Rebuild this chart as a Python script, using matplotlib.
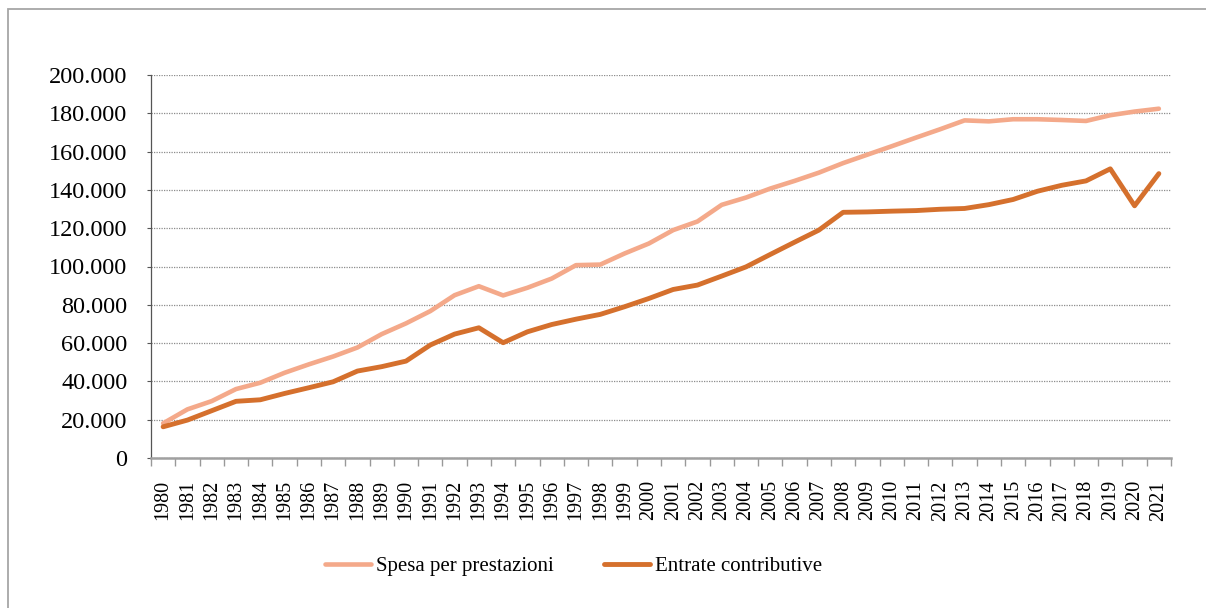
import matplotlib
matplotlib.use('Agg')
import matplotlib.pyplot as plt
from matplotlib.patches import Rectangle
from matplotlib.ticker import FuncFormatter
import numpy as np

# data (values in the chart's units)
years = list(range(1980, 2022))
spesa = [18.1, 25.4, 29.7, 36.0, 39.3, 44.5, 48.9, 53.0, 57.7, 64.7,
         70.3, 76.7, 85.0, 89.7, 84.9, 88.9, 93.7, 100.7, 101.0, 106.8,
         112.0, 119.0, 123.5, 132.2, 136.0, 140.7, 144.7, 149.0, 154.0, 158.4,
         162.8, 167.3, 171.7, 176.3, 175.8, 176.9, 176.9, 176.5, 176.0, 179.0,
         180.9, 182.4]
entrate = [16.3, 19.8, 24.7, 29.6, 30.4, 33.7, 36.7, 39.8, 45.4, 47.7,
           50.6, 59.0, 64.7, 68.0, 60.2, 65.9, 69.7, 72.5, 75.0, 79.0,
           83.3, 88.0, 90.3, 95.0, 99.8, 106.3, 112.7, 119.0, 128.3, 128.5,
           128.9, 129.2, 129.9, 130.3, 132.3, 135.0, 139.3, 142.4, 144.7, 151.0,
           131.7, 148.5]
spesa = [v * 1000 for v in spesa]
entrate = [v * 1000 for v in entrate]

plt.rcParams['font.family'] = ['Liberation Serif', 'DejaVu Serif']

fig = plt.figure(figsize=(12.06, 6.08), dpi=100)
# light grey frame around the chart area
fig.patches.append(Rectangle((8 / 1206, -0.05), 1.1, 1 - 9 / 608 + 0.05,
                             transform=fig.transFigure, fill=False,
                             edgecolor='#a6a6a6', linewidth=1.3))

ax = fig.add_axes([151 / 1206, 1 - 458 / 608, 1020 / 1206, 383 / 608])

x = np.arange(len(years))
ax.plot(x, spesa, color='#F4A98A', linewidth=3.3, label='Spesa per prestazioni',
        solid_capstyle='round', solid_joinstyle='round')
ax.plot(x, entrate, color='#D5702D', linewidth=3.5, label='Entrate contributive',
        solid_capstyle='round', solid_joinstyle='round')

ax.set_xlim(-0.5, len(years) - 0.5)
ax.set_ylim(0, 200000)
ax.set_yticks(range(0, 200001, 20000))
ax.yaxis.set_major_formatter(FuncFormatter(lambda v, p: f'{int(v):,}'.replace(',', '.')))

ax.set_xticks(x)
ax.set_xticklabels([str(y) for y in years], rotation=90)
ax.set_xticks(np.arange(-0.5, len(years)), minor=True)
ax.tick_params(axis='x', which='major', length=0, pad=16, labelsize=14.5)
ax.tick_params(axis='x', which='minor', length=6, width=1, color='#999999', direction='out')
ax.tick_params(axis='y', length=3, width=0.8, color='#555555', labelsize=17.5, pad=14)

ax.grid(axis='y', linestyle=(0, (1, 1)), color='#8c8c8c', linewidth=0.9)
for s in ['top', 'right']:
    ax.spines[s].set_visible(False)
ax.spines['left'].set_linestyle((0, (1, 1)))
ax.spines['left'].set_color('#555555')
ax.spines['left'].set_linewidth(0.9)
ax.spines['bottom'].set_color('#a0a0a0')
ax.spines['bottom'].set_linewidth(1.8)

fig.legend(loc='center', bbox_to_anchor=(573.5 / 1206, 1 - 566 / 608), ncol=2,
           frameon=False, fontsize=15, handlelength=2.2, columnspacing=2.4,
           handletextpad=0.25)

fig.savefig('out.png', dpi=100)
